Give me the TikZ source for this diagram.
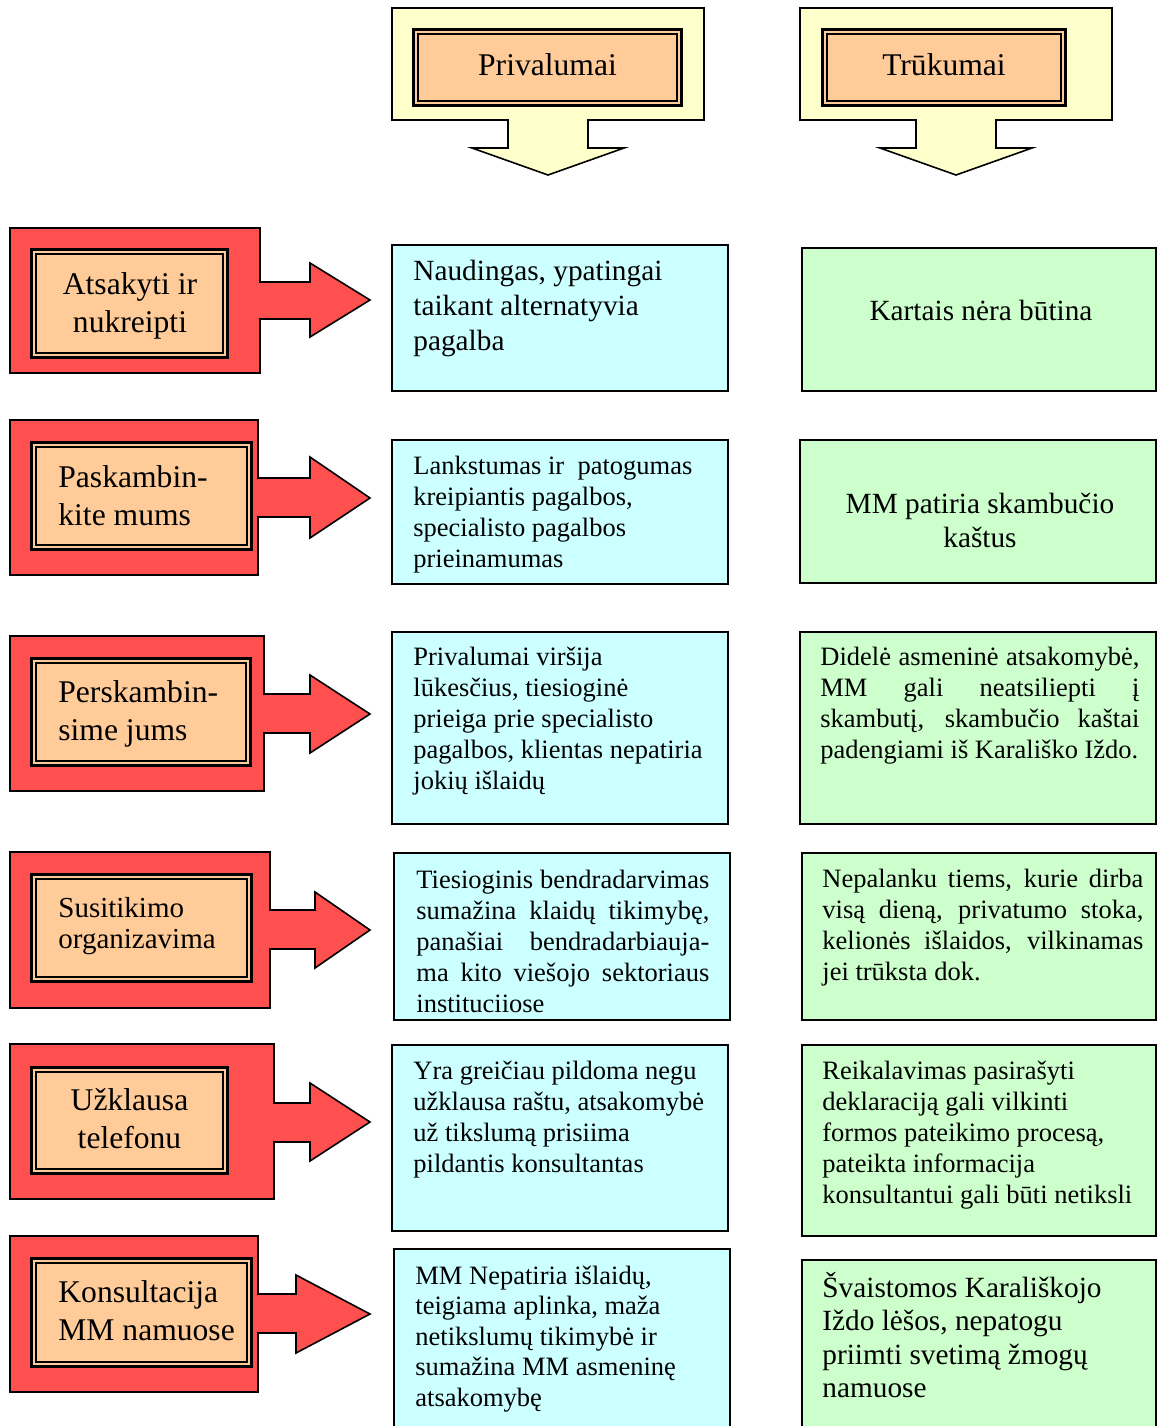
\documentclass[tikz,border=0pt]{standalone}
\usepackage{fontspec}
\setmainfont{Liberation Serif}
\usetikzlibrary{calc}

\definecolor{hdrfill}{HTML}{FFFFCC}
\definecolor{lblfill}{HTML}{FFCC99}
\definecolor{redfill}{HTML}{FF5050}
\definecolor{profill}{HTML}{CCFFFF}
\definecolor{confill}{HTML}{CCFFCC}

% font sizes used in the chart
\newcommand{\fhead}{\fontsize{15.8pt}{19pt}\selectfont}
\newcommand{\fmid}{\fontsize{14.5pt}{15.5pt}\selectfont}
\newcommand{\fbig}{\fontsize{14.65pt}{17.5pt}\selectfont}
\newcommand{\fsmall}{\fontsize{13.25pt}{15.5pt}\selectfont}

% stacked lines; the baseline of the block is the baseline of its first line
\newcommand{\ltab}[1]{\begin{tabular}[t]{@{}l@{}}#1\end{tabular}}
\newcommand{\ctab}[1]{\begin{tabular}[t]{@{}c@{}}#1\end{tabular}}
% a justified line spread to a given width
\newcommand{\sline}[2]{\makebox[#1][s]{#2}}

% orange label with a thick-thin double frame
\newcommand{\lblbox}[4]{%
  \fill[lblfill] (#1,#2) rectangle (#3,#4);
  \draw[line width=1.7pt] ([shift={(1.7,1.7)}]#1,#2) rectangle ([shift={(-1.7,-1.7)}]#3,#4);
  \draw[line width=1pt] ([shift={(6.3,6.3)}]#1,#2) rectangle ([shift={(-6.3,-6.3)}]#3,#4);
}

\tikzset{
  hdr/.style={fill=hdrfill, draw=black, line width=0.8pt, line join=miter},
  pointer/.style={fill=redfill, draw=black, line width=0.8pt, line join=miter},
  probox/.style={fill=profill, draw=black, line width=1pt},
  conbox/.style={fill=confill, draw=black, line width=1pt},
  txt/.style={inner sep=0pt, anchor=base west},
  ctxt/.style={inner sep=0pt, anchor=base},
}

\begin{document}
\begin{tikzpicture}[x=0.5pt, y=-0.5pt]
\useasboundingbox (0,0) rectangle (1157,1426);
\clip (0,0) rectangle (1157,1426);
\fill[white] (0,0) rectangle (1157,1426);

% ---------- column headers with down arrows ----------
\draw[hdr] (392,8) -- (704,8) -- (704,120) -- (588,120) -- (588,148) -- (624,148)
  -- (548,175) -- (472,148) -- (508,148) -- (508,120) -- (392,120) -- cycle;
\lblbox{412}{28}{683}{107}
\node[ctxt, font=\fhead] (pro) at (547.5,75) {Privalumai};

\draw[hdr] (800,8) -- (1112,8) -- (1112,120) -- (996,120) -- (996,148) -- (1032,148)
  -- (956,175) -- (880,148) -- (916,148) -- (916,120) -- (800,120) -- cycle;
\lblbox{821}{28}{1067}{107}
\node[ctxt, font=\fhead] (con) at (944,75) {Trūkumai};

% ---------- row 1 ----------
\draw[pointer] (10,228) -- (260,228) -- (260,282) -- (310,282) -- (310,263) -- (370,300)
  -- (310,337) -- (310,319) -- (260,319) -- (260,373) -- (10,373) -- cycle;
\lblbox{30}{248}{229}{359}
\node[ctxt, font=\fhead] (way1) at (130,294) {\ctab{Atsakyti ir\\ nukreipti}};

\draw[probox] (392,245) rectangle (728,391);
\node[txt, font=\fbig] (pro1) at (413,280)
  {\ltab{Naudingas, ypatingai\\ taikant alternatyvia\\ pagalba}};

\draw[conbox] (802,248) rectangle (1156,391);
\node[ctxt, font=\fbig] (con1) at (981,320) {Kartais nėra būtina};

% ---------- row 2 ----------
\draw[pointer] (10,420) -- (258,420) -- (258,478) -- (310,478) -- (310,457) -- (370,498)
  -- (310,538) -- (310,517) -- (258,517) -- (258,575) -- (10,575) -- cycle;
\lblbox{30}{441}{253}{551}
\node[txt, font=\fhead] (way2) at (58,487) {\ltab{Paskambin-\\ kite mums}};

\draw[probox] (392,440) rectangle (728,584);
\node[txt, font=\fsmall] (pro2) at (413,474)
  {\ltab{Lankstumas ir\ \ patogumas\\ kreipiantis pagalbos,\\ specialisto pagalbos\\ prieinamumas}};

\draw[conbox] (800,440) rectangle (1156,583);
\node[ctxt, font=\fontsize{14.65pt}{17pt}\selectfont] (con2) at (980,513)
  {\ctab{MM patiria skambučio\\ kaštus}};

% ---------- row 3 ----------
\draw[pointer] (10,636) -- (264,636) -- (264,694) -- (310,694) -- (310,675) -- (370,714)
  -- (310,753) -- (310,733) -- (264,733) -- (264,791) -- (10,791) -- cycle;
\lblbox{30}{657}{252}{767}
\node[txt, font=\fhead] (way3) at (58,702) {\ltab{Perskambin-\\ sime jums}};

\draw[probox] (392,632) rectangle (728,824);
\node[txt, font=\fsmall] (pro3) at (413,665)
  {\ltab{Privalumai viršija\\ lūkesčius, tiesioginė\\ prieiga prie specialisto\\ pagalbos, klientas nepatiria\\ jokių išlaidų}};

\draw[conbox] (800,632) rectangle (1156,824);
\node[txt, font=\fsmall] (con3) at (820,665)
  {\ltab{\sline{159.5pt}{Didelė asmeninė atsakomybė,}\\
         \sline{159.5pt}{MM gali neatsiliepti į}\\
         \sline{159.5pt}{skambutį, skambučio kaštai}\\
         padengiami iš Karališko Iždo.}};

% ---------- row 4 ----------
\draw[pointer] (10,852) -- (270,852) -- (270,910) -- (315,910) -- (315,892) -- (370,930)
  -- (315,968) -- (315,949) -- (270,949) -- (270,1008) -- (10,1008) -- cycle;
\lblbox{30}{873}{253}{983}
\node[txt, font=\fmid] (way4) at (58,917) {\ltab{Susitikimo\\ organizavima}};

\draw[probox] (394,853) rectangle (730,1020);
\node[txt, font=\fsmall] (pro4) at (416,888)
  {\ltab{\sline{146.5pt}{Tiesioginis bendradarvimas}\\
         \sline{146.5pt}{sumažina klaidų tikimybę,}\\
         \sline{146.5pt}{panašiai bendradarbiauja-}\\
         \sline{146.5pt}{ma kito viešojo sektoriaus}\\
         instituciiose}};

\draw[conbox] (802,853) rectangle (1156,1020);
\node[txt, font=\fsmall] (con4) at (822,887)
  {\ltab{\sline{160.5pt}{Nepalanku tiems, kurie dirba}\\
         \sline{160.5pt}{visą dieną, privatumo stoka,}\\
         \sline{160.5pt}{kelionės išlaidos, vilkinamas}\\
         jei trūksta dok.}};

% ---------- row 5 ----------
\draw[pointer] (10,1044) -- (274,1044) -- (274,1103) -- (310,1103) -- (310,1083) -- (370,1122)
  -- (310,1161) -- (310,1142) -- (274,1142) -- (274,1199) -- (10,1199) -- cycle;
\lblbox{30}{1066}{229}{1175}
\node[ctxt, font=\fhead] (way5) at (129.5,1110) {\ctab{Užklausa\\ telefonu}};

\draw[probox] (392,1045) rectangle (728,1231);
\node[txt, font=\fsmall] (pro5) at (413,1079)
  {\ltab{Yra greičiau pildoma negu\\ užklausa raštu, atsakomybė\\ už tikslumą prisiima\\ pildantis konsultantas}};

\draw[conbox] (802,1045) rectangle (1156,1236);
\node[txt, font=\fsmall] (con5) at (822,1079)
  {\ltab{Reikalavimas pasirašyti\\ deklaraciją gali vilkinti\\ formos pateikimo procesą,\\ pateikta informacija\\ konsultantui gali būti netiksli}};

% ---------- row 6 ----------
\draw[pointer] (10,1236) -- (258,1236) -- (258,1294) -- (296,1294) -- (296,1275) -- (370,1314)
  -- (296,1353) -- (296,1333) -- (258,1333) -- (258,1392) -- (10,1392) -- cycle;
\lblbox{30}{1257}{253}{1368}
\node[txt, font=\fhead] (way6) at (58,1302) {\ltab{Konsultacija\\ MM namuose}};

\draw[probox] (394,1249) rectangle (730,1450);
\node[txt, font=\fontsize{13.25pt}{15.3pt}\selectfont] (pro6) at (415,1284)
  {\ltab{MM Nepatiria išlaidų,\\ teigiama aplinka, maža\\ netikslumų tikimybė ir\\ sumažina MM asmeninę\\ atsakomybę}};

\draw[conbox] (802,1260) rectangle (1156,1450);
\node[txt, font=\fontsize{14.65pt}{16.75pt}\selectfont] (con6) at (822,1297)
  {\ltab{Švaistomos Karališkojo\\ Iždo lėšos, nepatogu\\ priimti svetimą žmogų\\ namuose}};
\end{tikzpicture}
\end{document}
